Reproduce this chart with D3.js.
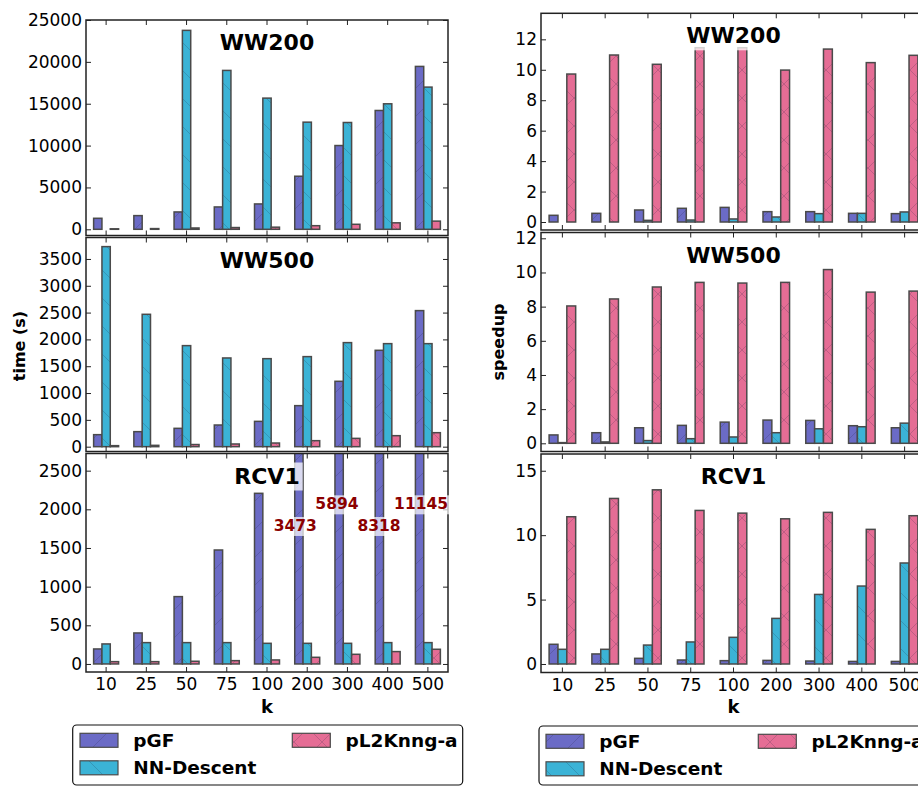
<!DOCTYPE html>
<html>
<head>
<meta charset="utf-8">
<script src="https://cdn.jsdelivr.net/npm/d3@7"></script>
<style>
  body { margin: 0; background: #fff; }
  svg { display: block; font-family: "DejaVu Sans", sans-serif; }
</style>
</head>
<body>
<svg id="chart" width="918" height="786"></svg>
<script>
// ---- data ----
const kLabels = ["10", "25", "50", "75", "100", "200", "300", "400", "500"];
const seriesNames = ["pGF", "NN-Descent", "pL2Knng-a"];
const seriesColors = ["#6b6bc6", "#3bb3d6", "#e56d95"];

// build time (s)
const ww200TimePGF = [1316, 1635, 2073, 2671, 3030, 6339, 10007, 14194, 19456];
const ww200TimeNND = [0, 0, 23762, 18978, 15669, 12798, 12758, 14991, 16985];
const ww200TimeL2 = [60, 85, 158, 210, 254, 432, 599, 773, 977];

const ww500TimePGF = [224, 280, 342, 404, 472, 765, 1219, 1797, 2537];
const ww500TimeNND = [3730, 2468, 1884, 1654, 1641, 1679, 1940, 1921, 1921];
const ww500TimeL2 = [19, 25, 40, 50, 68, 112, 155, 205, 261];

const rcv1TimePGF = [194, 401, 871, 1474, 2207, 3473, 5894, 8318, 11145];
const rcv1TimeNND = [259, 276, 276, 276, 267, 267, 267, 276, 276];
const rcv1TimeL2 = [30, 30, 35, 43, 52, 86, 125, 160, 190];

// speedup
const ww200SpeedPGF = [0.44, 0.57, 0.79, 0.90, 0.96, 0.68, 0.68, 0.57, 0.55];
const ww200SpeedNND = [0, 0, 0.11, 0.13, 0.20, 0.33, 0.55, 0.57, 0.66];
const ww200SpeedL2 = [9.72, 10.97, 10.36, 11.45, 11.45, 9.98, 11.36, 10.47, 10.95];

const ww500SpeedPGF = [0.49, 0.62, 0.91, 1.05, 1.24, 1.36, 1.34, 1.03, 0.91];
const ww500SpeedNND = [0.04, 0.08, 0.16, 0.27, 0.37, 0.62, 0.85, 0.97, 1.18];
const ww500SpeedL2 = [8.04, 8.45, 9.15, 9.42, 9.38, 9.42, 10.17, 8.85, 8.91];

const rcv1SpeedPGF = [1.53, 0.78, 0.44, 0.31, 0.26, 0.28, 0.23, 0.20, 0.20];
const rcv1SpeedNND = [1.14, 1.14, 1.47, 1.71, 2.07, 3.54, 5.40, 6.05, 7.84];
const rcv1SpeedL2 = [11.43, 12.85, 13.52, 11.92, 11.71, 11.27, 11.77, 10.45, 11.51];

// tick values
const ww200TimeTicks = [0, 5000, 10000, 15000, 20000, 25000];
const ww500TimeTicks = [0, 500, 1000, 1500, 2000, 2500, 3000, 3500];
const rcv1TimeTicks = [0, 500, 1000, 1500, 2000, 2500];
const ww200SpeedTicks = [0, 2, 4, 6, 8, 10, 12];
const ww500SpeedTicks = [0, 2, 4, 6, 8, 10, 12];
const rcv1SpeedTicks = [0, 5, 10, 15];

// ---- drawing ----
const svg = d3.select("#chart");
const defs = svg.append("defs");

// hatch patterns: "/" for pGF, "\" for NN-Descent, "x" for pL2Knng-a
const hatchPaths = [
  "M0,28 L28,0 M-7,7 L7,-7 M21,35 L35,21",
  "M0,0 L28,28 M-7,21 L7,35 M21,-7 L35,7",
  "M0,28 L28,0 M-7,7 L7,-7 M21,35 L35,21 M0,0 L28,28 M-7,21 L7,35 M21,-7 L35,7"
];
seriesColors.forEach((c, s) => {
  const p = defs.append("pattern")
    .attr("id", "hatch" + s)
    .attr("patternUnits", "userSpaceOnUse")
    .attr("width", 28).attr("height", 28);
  p.append("rect").attr("width", 28).attr("height", 28).attr("fill", c);
  p.append("path").attr("d", hatchPaths[s])
    .attr("stroke", "rgba(30,30,60,0.22)").attr("stroke-width", 0.9).attr("fill", "none");
});

const panels = [
  { x0: 86, x1: 448, y0: 20, y1: 235.5, domain: [-740, 25000], ticks: ww200TimeTicks,
    values: [ww200TimePGF, ww200TimeNND, ww200TimeL2], title: "WW200", bottom: false },
  { x0: 86, x1: 448, y0: 237.5, y1: 451.5, domain: [-90, 3900], ticks: ww500TimeTicks,
    values: [ww500TimePGF, ww500TimeNND, ww500TimeL2], title: "WW500", bottom: false },
  { x0: 86, x1: 448, y0: 453.5, y1: 672, domain: [-104, 2722], ticks: rcv1TimeTicks,
    values: [rcv1TimePGF, rcv1TimeNND, rcv1TimeL2], title: "RCV1", bottom: true, notes: true },
  { x0: 541, x1: 926, y0: 13.3, y1: 230, domain: [-0.525, 13.71], ticks: ww200SpeedTicks,
    values: [ww200SpeedPGF, ww200SpeedNND, ww200SpeedL2], title: "WW200", bottom: false },
  { x0: 541, x1: 926, y0: 232.5, y1: 451.5, domain: [-0.48, 12.34], ticks: ww500SpeedTicks,
    values: [ww500SpeedPGF, ww500SpeedNND, ww500SpeedL2], title: "WW500", bottom: false },
  { x0: 541, x1: 926, y0: 454, y1: 672.5, domain: [-0.66, 16.3], ticks: rcv1SpeedTicks,
    values: [rcv1SpeedPGF, rcv1SpeedNND, rcv1SpeedL2], title: "RCV1", bottom: true }
];

function boxedText(g, x, y, text, opts) {
  const t = g.append("text")
    .attr("x", x).attr("y", y)
    .attr("text-anchor", "middle")
    .attr("font-weight", "bold")
    .attr("font-size", opts.size)
    .attr("fill", opts.color)
    .text(text);
  const bb = t.node().getBBox();
  g.insert("rect", () => t.node())
    .attr("x", bb.x - opts.pad).attr("y", bb.y - opts.pad + 2)
    .attr("width", bb.width + 2 * opts.pad).attr("height", bb.height + 2 * opts.pad - 3)
    .attr("fill", "#fff").attr("fill-opacity", opts.alpha);
}

panels.forEach((p, pi) => {
  const g = svg.append("g");
  const x = d3.scaleBand().domain(kLabels).range([p.x0, p.x1]);
  const y = d3.scaleLinear().domain(p.domain).range([p.y1, p.y0]);
  const bw = x.bandwidth() * 0.207;
  const cx = k => x(k) + x.bandwidth() / 2;

  const clipId = "clip" + pi;
  defs.append("clipPath").attr("id", clipId)
    .append("rect").attr("x", p.x0).attr("y", p.y0)
    .attr("width", p.x1 - p.x0).attr("height", p.y1 - p.y0);

  const barsG = g.append("g").attr("clip-path", `url(#${clipId})`);
  p.values.forEach((vals, s) => {
    barsG.append("g").selectAll("rect")
      .data(vals)
      .join("rect")
      .attr("x", (d, i) => cx(kLabels[i]) + (s - 1) * bw - bw / 2)
      .attr("y", d => y(d))
      .attr("width", bw)
      .attr("height", d => y(0) - y(d))
      .attr("fill", `url(#hatch${s})`)
      .attr("stroke", "#4a4a4a")
      .attr("stroke-width", 1.5);
  });

  // axes: ticks point inward on all four sides
  const styleAxis = a => {
    a.select(".domain").remove();
    a.selectAll(".tick line").attr("stroke", "#222").attr("stroke-width", 1);
    a.selectAll(".tick text").attr("fill", "#000");
    a.attr("font-family", "DejaVu Sans, sans-serif").attr("font-size", 17);
  };
  const plain = d => String(d);
  g.append("g").attr("transform", `translate(${p.x0},0)`)
    .call(d3.axisLeft(y).tickValues(p.ticks).tickSize(-5).tickPadding(4).tickFormat(plain))
    .call(styleAxis);
  g.append("g").attr("transform", `translate(${p.x1},0)`)
    .call(d3.axisRight(y).tickValues(p.ticks).tickSize(-5).tickFormat(""))
    .call(styleAxis);
  g.append("g").attr("transform", `translate(0,${p.y0})`)
    .call(d3.axisTop(x).tickSize(-5).tickFormat(""))
    .call(styleAxis);
  g.append("g").attr("transform", `translate(0,${p.y1})`)
    .call(d3.axisBottom(x).tickSize(-5).tickPadding(6).tickFormat(p.bottom ? plain : ""))
    .call(styleAxis);

  // frame
  g.append("rect")
    .attr("x", p.x0).attr("y", p.y0)
    .attr("width", p.x1 - p.x0).attr("height", p.y1 - p.y0)
    .attr("fill", "none").attr("stroke", "#222").attr("stroke-width", 1.5);

  // panel title
  boxedText(g, (p.x0 + p.x1) / 2, p.y0 + 30, p.title,
    { size: 22, color: "#000", pad: 3, alpha: 0.75 });

  // values of pGF bars that run past the top of the RCV1 time panel
  if (p.notes) {
    const nudge = [-3.7, -2.2, -0.3, 1.5];
    const levels = [1720, 2000];
    let n = 0;
    p.values[0].forEach((v, i) => {
      if (v <= p.domain[1]) return;
      const xc = cx(kLabels[i]) - bw + nudge[n];
      boxedText(g, xc, y(levels[n % 2]), String(v),
        { size: 15.5, color: "#8b0000", pad: 2, alpha: 0.7 });
      n++;
    });
  }

  if (p.bottom) {
    g.append("text")
      .attr("x", (p.x0 + p.x1) / 2).attr("y", 713)
      .attr("text-anchor", "middle").attr("font-weight", "bold").attr("font-size", 18)
      .text("k");
  }
});

// y-axis titles
svg.append("text")
  .attr("transform", "translate(25,346) rotate(-90)")
  .attr("text-anchor", "middle").attr("font-weight", "bold").attr("font-size", 16)
  .text("time (s)");
svg.append("text")
  .attr("transform", "translate(504,342) rotate(-90)")
  .attr("text-anchor", "middle").attr("font-weight", "bold").attr("font-size", 16)
  .text("speedup");

// legends
const legends = [
  { x: 72.7, y: 725, w: 390, h: 60, patchX: [80, 292.3] },
  { x: 539, y: 726, w: 400, h: 59, patchX: [546, 758.3] }
];
const legendSlots = [{ col: 0, row: 0 }, { col: 0, row: 1 }, { col: 1, row: 0 }];
legends.forEach(L => {
  const g = svg.append("g");
  g.append("rect")
    .attr("x", L.x).attr("y", L.y).attr("width", L.w).attr("height", L.h)
    .attr("rx", 4).attr("fill", "#fff").attr("stroke", "#111").attr("stroke-width", 1.2);
  seriesNames.forEach((name, s) => {
    const slot = legendSlots[s];
    const px = L.patchX[slot.col];
    const py = L.y + 8.3 + slot.row * 27.5;
    g.append("rect")
      .attr("x", px).attr("y", py).attr("width", 38).attr("height", 14)
      .attr("fill", `url(#hatch${s})`).attr("stroke", "#4a4a4a").attr("stroke-width", 1.2);
    g.append("text")
      .attr("x", px + 53.3).attr("y", py + 13.5)
      .attr("font-weight", "bold").attr("font-size", 18.5)
      .text(name);
  });
});
</script>
</body>
</html>
